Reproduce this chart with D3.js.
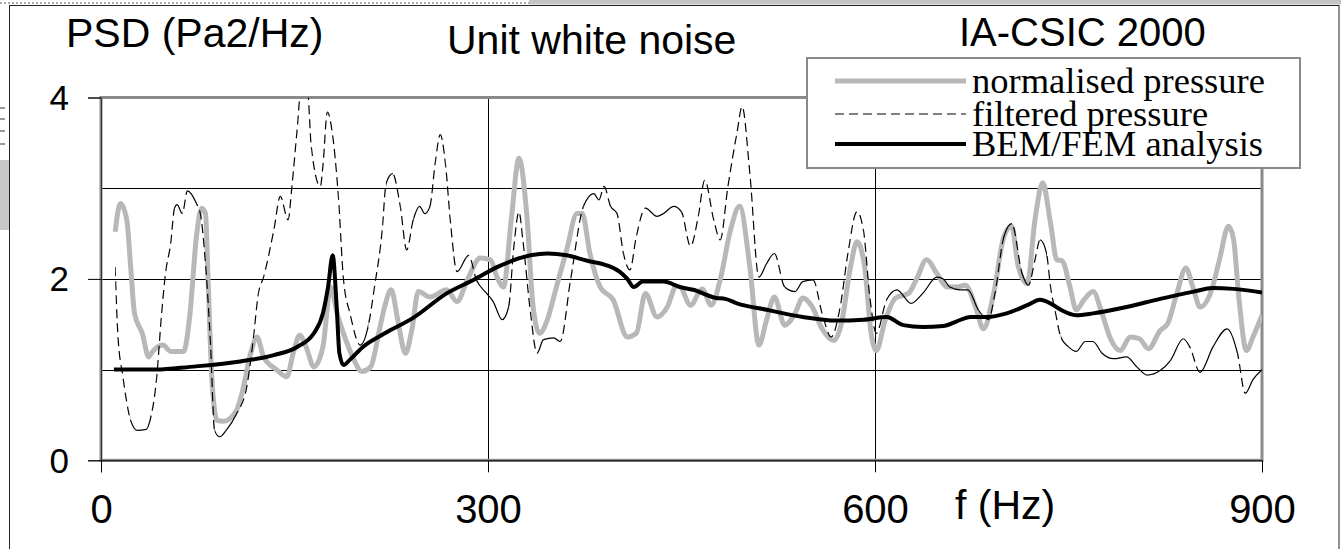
<!DOCTYPE html>
<html>
<head>
<meta charset="utf-8">
<script src="https://cdn.jsdelivr.net/npm/d3@7"></script>
<style>
  body { margin: 0; background: #fff; }
  svg { display: block; }
  .sans { font-family: "Liberation Sans", Arial, sans-serif; fill: #000; }
  .serif { font-family: "Liberation Serif", "Times New Roman", serif; fill: #000; }
</style>
</head>
<body>
<div id="chart"></div>
<script>
// data (f in Hz, PSD in Pa2/Hz)
var normFreq = [11, 15, 20, 23, 26, 32, 37, 39, 48, 54, 64, 69, 74, 78, 81, 83, 86, 90, 95, 105,
    110, 116, 121, 126, 136, 144, 149, 154, 159, 165, 172, 178, 183, 188, 196, 202, 209, 216, 220, 225,
    230, 236, 241, 246, 255, 268, 276, 284, 294, 302, 307, 312, 318, 324, 330, 335, 340, 346, 353, 361,
    369, 373, 379, 387, 397, 408, 415, 422, 431, 439, 446, 449, 457, 466, 473, 480, 488, 495, 503, 510,
    516, 522, 530, 538, 544, 551, 559, 568, 574, 581, 586, 592, 597, 601, 608, 616, 626, 632, 640, 648,
    656, 664, 670, 678, 684, 692, 700, 706, 711, 718, 724, 730, 736, 741, 745, 751, 756, 762, 769, 776,
    782, 790, 798, 805, 812, 821, 827, 834, 841, 847, 852, 861, 867, 874, 878, 882, 888, 893, 900];
var normVal = [2.52, 2.83, 2.65, 2.13, 1.62, 1.40, 1.14, 1.18, 1.27, 1.20, 1.20, 1.62, 2.47, 2.78, 2.72, 1.99, 0.89, 0.44, 0.43, 0.55,
    0.78, 1.18, 1.36, 1.14, 1.00, 0.92, 1.18, 1.38, 1.25, 1.03, 1.25, 1.91, 1.62, 1.40, 1.11, 0.98, 1.03, 1.45, 1.70, 1.88,
    1.55, 1.18, 1.44, 1.86, 1.80, 1.88, 1.75, 1.99, 2.23, 2.21, 2.02, 1.91, 2.65, 3.33, 2.72, 1.69, 1.40, 1.55, 1.91, 2.32,
    2.72, 2.72, 2.28, 1.91, 1.77, 1.36, 1.40, 1.84, 1.58, 1.69, 1.92, 1.91, 1.71, 1.89, 1.71, 1.99, 2.54, 2.80, 2.13, 1.27,
    1.55, 1.80, 1.49, 1.62, 1.79, 1.70, 1.45, 1.32, 1.51, 2.13, 2.41, 2.13, 1.40, 1.21, 1.55, 1.79, 1.84, 1.99, 2.21, 2.06,
    1.91, 1.91, 1.93, 1.69, 1.45, 1.84, 2.47, 2.58, 2.14, 1.95, 2.65, 3.06, 2.62, 2.21, 2.20, 1.92, 1.66, 1.77, 1.86, 1.62,
    1.36, 1.21, 1.36, 1.34, 1.23, 1.43, 1.51, 1.84, 2.12, 1.88, 1.69, 1.88, 2.21, 2.58, 2.43, 1.80, 1.21, 1.36, 1.60];

var filtFreq = [11, 13, 17, 23, 28, 35, 38, 43, 47, 50, 54, 57, 59, 63, 67, 74, 77, 81, 85, 88,
    92, 97, 105, 113, 118, 122, 126, 134, 139, 145, 148, 152, 155, 160, 163, 170, 172, 175.5, 179, 184,
    188, 193, 201, 207, 212, 218, 221, 226, 232, 237, 242, 247, 251, 255, 259, 263, 267, 271, 276, 285,
    291, 299, 304, 311, 316, 320, 324, 327, 333, 338, 343, 351, 356, 364, 374, 382, 386, 390, 395, 400,
    405, 410, 415, 422, 431, 436, 444, 450, 457, 463, 468, 475, 480, 486, 493, 497, 503, 510, 516, 522,
    530, 538, 544, 552, 559, 566, 573, 579, 586, 591, 596, 601, 609, 617, 628, 637, 648, 653, 658, 666,
    672, 680, 688, 693, 700, 706, 714, 719, 724, 728, 733, 736, 740, 744, 750, 756, 763, 769, 776, 785,
    795, 803, 811, 821, 829, 839, 844, 852, 862, 873, 881, 887, 893, 900];
var filtVal = [2.13, 1.40, 0.92, 0.44, 0.33, 0.34, 0.44, 0.89, 1.62, 2.06, 2.39, 2.78, 2.82, 2.72, 2.97, 2.83, 2.72, 2.17, 1.25, 0.33,
    0.26, 0.33, 0.51, 0.81, 1.33, 1.84, 2.02, 2.54, 2.91, 2.65, 3.02, 3.64, 4.08, 4.08, 3.46, 3.02, 3.24, 3.84, 3.64, 2.91,
    1.99, 1.62, 1.27, 1.47, 1.91, 2.54, 3.05, 3.16, 2.80, 2.32, 2.65, 2.80, 2.72, 2.80, 3.27, 3.59, 3.27, 2.61, 2.08, 2.26,
    1.99, 1.84, 1.75, 1.55, 1.69, 2.35, 2.74, 2.43, 1.62, 1.18, 1.33, 1.35, 1.31, 1.99, 2.80, 2.94, 2.87, 3.02, 2.80, 2.72,
    2.28, 2.10, 2.47, 2.78, 2.69, 2.72, 2.80, 2.74, 2.36, 2.69, 3.09, 2.65, 2.43, 3.02, 3.61, 3.90, 3.16, 2.02, 2.17, 2.28,
    1.91, 1.86, 1.97, 1.99, 1.62, 1.36, 1.69, 2.28, 2.74, 2.54, 1.80, 1.40, 1.77, 1.88, 1.73, 1.84, 2.02, 2.00, 1.91, 1.88,
    1.88, 1.66, 1.55, 1.84, 2.47, 2.61, 2.06, 1.93, 2.21, 2.43, 2.28, 1.92, 1.62, 1.36, 1.25, 1.20, 1.31, 1.31, 1.18, 1.12,
    1.14, 1.03, 0.94, 0.99, 1.10, 1.34, 1.25, 0.97, 1.25, 1.45, 1.18, 0.74, 0.89, 1.00];

var bemFreq = [10, 43, 69, 108, 134, 152, 165, 172, 176, 179.6, 182.7, 184.8, 188, 193, 203, 220, 242, 268, 289, 307,
    333, 346, 361, 377, 392, 402, 408, 413, 420, 436, 449, 459, 477, 484, 493, 516, 544, 570, 591, 609,
    622, 637, 653, 663, 674, 687, 702, 718, 728, 736, 744, 756, 769, 795, 821, 847, 862, 878, 900];
var bemVal = [1.00, 1.00, 1.03, 1.09, 1.16, 1.25, 1.40, 1.62, 1.91, 2.26, 1.69, 1.18, 1.05, 1.11, 1.25, 1.40, 1.57, 1.84, 1.99, 2.13,
    2.26, 2.28, 2.26, 2.20, 2.15, 2.08, 2.00, 1.91, 1.97, 1.97, 1.91, 1.88, 1.79, 1.78, 1.73, 1.66, 1.58, 1.54, 1.55, 1.58,
    1.49, 1.47, 1.48, 1.53, 1.58, 1.58, 1.62, 1.71, 1.77, 1.73, 1.66, 1.60, 1.62, 1.69, 1.78, 1.86, 1.90, 1.89, 1.85];

var xTicks = [0, 300, 600, 900];
var yTicks = [0, 2, 4];
var yGrid = [1, 2, 3];
var seriesNames = ['normalised pressure', 'filtered pressure', 'BEM/FEM analysis'];

var W = 1341, H = 549;
var plot = { left: 101, right: 1262, top: 97.5, bottom: 460.3 };

var svg = d3.select('#chart').append('svg')
    .attr('width', W)
    .attr('height', H);

var x = d3.scaleLinear().domain([0, 900]).range([plot.left, plot.right]);
var y = d3.scaleLinear().domain([0, 4]).range([plot.bottom, plot.top]);

// outer frame and the bits of the page around it
svg.append('rect')
    .attr('x', 529).attr('y', 0).attr('width', W - 529).attr('height', 4.5)
    .attr('fill', '#c4c4c4');
svg.append('line')
    .attr('x1', 0).attr('x2', 529).attr('y1', 3).attr('y2', 3)
    .attr('stroke', '#555').attr('stroke-dasharray', '2,2');
svg.append('rect')
    .attr('x', 0).attr('y', 160).attr('width', 9).attr('height', 70)
    .attr('fill', '#c8c8c8');
[108, 119, 131, 144].forEach(function (d) {
    svg.append('line')
        .attr('x1', 0).attr('x2', 5).attr('y1', d).attr('y2', d)
        .attr('stroke', '#333');
});
svg.append('rect')
    .attr('x', 9.5).attr('y', 5.5).attr('width', 1329.5).attr('height', 600)
    .attr('fill', 'white').attr('stroke', '#222').attr('stroke-width', 1);

svg.append('clipPath').attr('id', 'plotClip')
    .append('rect')
    .attr('x', plot.left).attr('y', plot.top)
    .attr('width', plot.right - plot.left).attr('height', plot.bottom - plot.top);

// gridlines
svg.selectAll('.ygrid')
    .data(yGrid)
    .enter().append('line')
    .attr('class', 'ygrid')
    .attr('x1', plot.left).attr('x2', plot.right)
    .attr('y1', d => Math.round(y(d)) + 0.5).attr('y2', d => Math.round(y(d)) + 0.5)
    .attr('stroke', '#000').attr('stroke-width', 1);

svg.selectAll('.xgrid')
    .data([300, 600])
    .enter().append('line')
    .attr('class', 'xgrid')
    .attr('x1', d => Math.round(x(d)) + 0.5).attr('x2', d => Math.round(x(d)) + 0.5)
    .attr('y1', plot.top).attr('y2', plot.bottom)
    .attr('stroke', '#000').attr('stroke-width', 1);

// plot border
svg.append('rect')
    .attr('x', plot.left).attr('y', plot.top)
    .attr('width', plot.right - plot.left).attr('height', plot.bottom - plot.top)
    .attr('fill', 'none').attr('stroke', '#8a8a8a').attr('stroke-width', 3);

var series = svg.append('g').attr('clip-path', 'url(#plotClip)');

function pts(fs, vs) {
    return fs.map((f, i) => [f, vs[i]]);
}

var line = d3.line()
    .x(d => x(d[0]))
    .y(d => y(d[1]))
    .curve(d3.curveMonotoneX);

// normalised pressure
series.append('path')
    .datum(pts(normFreq, normVal))
    .attr('d', line)
    .attr('fill', 'none')
    .attr('stroke', '#b8b8b8')
    .attr('stroke-width', 5)
    .attr('stroke-linejoin', 'round');

// filtered pressure: dashes only show on the steep stretches, flat ones look solid
var filt = pts(filtFreq, filtVal);
var steep = [], flat = [];
for (var i = 0; i < filt.length - 1; i++) {
    var dx = x(filt[i + 1][0]) - x(filt[i][0]);
    var dy = Math.abs(y(filt[i + 1][1]) - y(filt[i][1]));
    var seg = [x(filt[i][0]), x(filt[i + 1][0])];
    if (dy / dx > 2.4) steep.push(seg); else flat.push(seg);
}
var steepClip = svg.append('clipPath').attr('id', 'steepClip');
steepClip.selectAll('rect').data(steep).enter().append('rect')
    .attr('x', d => d[0]).attr('width', d => d[1] - d[0] + 0.3)
    .attr('y', plot.top).attr('height', plot.bottom - plot.top);
var flatClip = svg.append('clipPath').attr('id', 'flatClip');
flatClip.selectAll('rect').data(flat).enter().append('rect')
    .attr('x', d => d[0]).attr('width', d => d[1] - d[0] + 0.3)
    .attr('y', plot.top).attr('height', plot.bottom - plot.top);

series.append('g').attr('clip-path', 'url(#flatClip)')
    .append('path')
    .datum(filt)
    .attr('d', line)
    .attr('fill', 'none')
    .attr('stroke', '#000')
    .attr('stroke-width', 1.2);

series.append('g').attr('clip-path', 'url(#steepClip)')
    .append('path')
    .datum(filt)
    .attr('d', line)
    .attr('fill', 'none')
    .attr('stroke', '#000')
    .attr('stroke-width', 1.2)
    .attr('stroke-dasharray', '9,5');

// BEM/FEM analysis
series.append('path')
    .datum(pts(bemFreq, bemVal))
    .attr('d', line)
    .attr('fill', 'none')
    .attr('stroke', '#000')
    .attr('stroke-width', 4)
    .attr('stroke-linejoin', 'round');

// axes
var yAxis = d3.axisLeft(y)
    .tickValues(yTicks)
    .tickSize(13)
    .tickPadding(19)
    .tickFormat(d3.format('d'));

var yg = svg.append('g')
    .attr('transform', 'translate(' + plot.left + ',0)')
    .call(yAxis);
yg.select('.domain').attr('stroke', '#333').attr('stroke-width', 1);
yg.selectAll('.tick line').attr('stroke', '#000');
yg.selectAll('.tick text')
    .attr('class', 'sans')
    .style('font-size', '35px')
    .attr('dy', '0.34em');

var xAxis = d3.axisBottom(x)
    .tickValues(xTicks)
    .tickSize(12)
    .tickPadding(22)
    .tickFormat(d3.format('d'));

var xg = svg.append('g')
    .attr('transform', 'translate(0,' + plot.bottom + ')')
    .call(xAxis);
xg.select('.domain').attr('stroke', '#000').attr('stroke-width', 1);
xg.selectAll('.tick line').attr('stroke', '#000');
xg.selectAll('.tick text')
    .attr('class', 'sans')
    .style('font-size', '40px');

// titles
svg.append('text').attr('class', 'sans')
    .attr('x', 66).attr('y', 47)
    .style('font-size', '41px')
    .text('PSD (Pa2/Hz)');

svg.append('text').attr('class', 'sans')
    .attr('x', 447).attr('y', 54)
    .style('font-size', '41px')
    .text('Unit white noise');

svg.append('text').attr('class', 'sans')
    .attr('x', 959).attr('y', 46)
    .style('font-size', '40px')
    .text('IA-CSIC 2000');

svg.append('text').attr('class', 'sans')
    .attr('x', 955).attr('y', 519)
    .style('font-size', '41px')
    .text('f (Hz)');

// legend
var legend = svg.append('g');
legend.append('rect')
    .attr('x', 807).attr('y', 58).attr('width', 493).attr('height', 110)
    .attr('fill', 'white').attr('stroke', '#8a8a8a').attr('stroke-width', 2);

var legendStyle = [
    { stroke: '#b8b8b8', width: 5, dash: null },
    { stroke: '#000', width: 1.2, dash: '9,5' },
    { stroke: '#000', width: 4, dash: null }
];
var legendY = [81, 114, 144];

legend.selectAll('.lline')
    .data(seriesNames)
    .enter().append('line')
    .attr('class', 'lline')
    .attr('x1', 835).attr('x2', 966)
    .attr('y1', (d, i) => legendY[i]).attr('y2', (d, i) => legendY[i])
    .attr('stroke', (d, i) => legendStyle[i].stroke)
    .attr('stroke-width', (d, i) => legendStyle[i].width)
    .attr('stroke-dasharray', (d, i) => legendStyle[i].dash);

legend.selectAll('.ltext')
    .data(seriesNames)
    .enter().append('text')
    .attr('class', 'serif')
    .attr('x', 972)
    .attr('y', (d, i) => legendY[i] + 12)
    .style('font-size', '36.5px')
    .text(d => d);
</script>
</body>
</html>
